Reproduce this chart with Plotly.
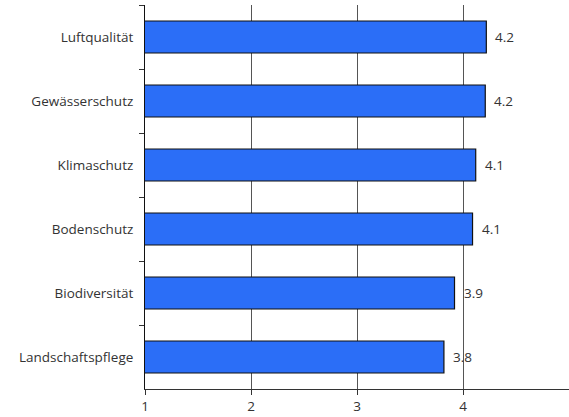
import plotly.graph_objects as go

categories = ["Luftqualität", "Gewässerschutz", "Klimaschutz", "Bodenschutz", "Biodiversität", "Landschaftspflege"]
values = [4.22, 4.21, 4.12, 4.09, 3.92, 3.82]
x_ticks = [1, 2, 3, 4]

FONT = "Open Sans"

fig = go.Figure(go.Bar(
    y=categories, x=values, orientation="h",
    marker=dict(color="#2B6EF7", line=dict(color="#111111", width=1.2)),
    width=0.5,
))

for c, v in zip(categories, values):
    fig.add_annotation(x=v, y=c, text=f"{v:.1f}", showarrow=False,
                       xanchor="left", xshift=7,
                       font=dict(family=FONT, size=13.5, color="#333333"))

fig.update_layout(
    width=569, height=417,
    margin=dict(l=145, r=0, t=5, b=28),
    plot_bgcolor="white", paper_bgcolor="white",
    font=dict(family=FONT, size=13.5, color="#333333"),
    showlegend=False,
    xaxis=dict(range=[1, 5], tickvals=x_ticks, ticks="outside", ticklen=5,
               tickcolor="#333333", showgrid=True, gridcolor="#555555", gridwidth=1,
               showline=True, linecolor="#333333", linewidth=1, zeroline=False),
    yaxis=dict(categoryorder="array", categoryarray=categories, autorange="reversed",
               ticks="outside", ticklen=5, tickson="boundaries", tickcolor="#333333",
               showline=True, linecolor="#111111", linewidth=1, showgrid=False,
               ticklabelstandoff=8),
)
fig.write_html("out.html")
